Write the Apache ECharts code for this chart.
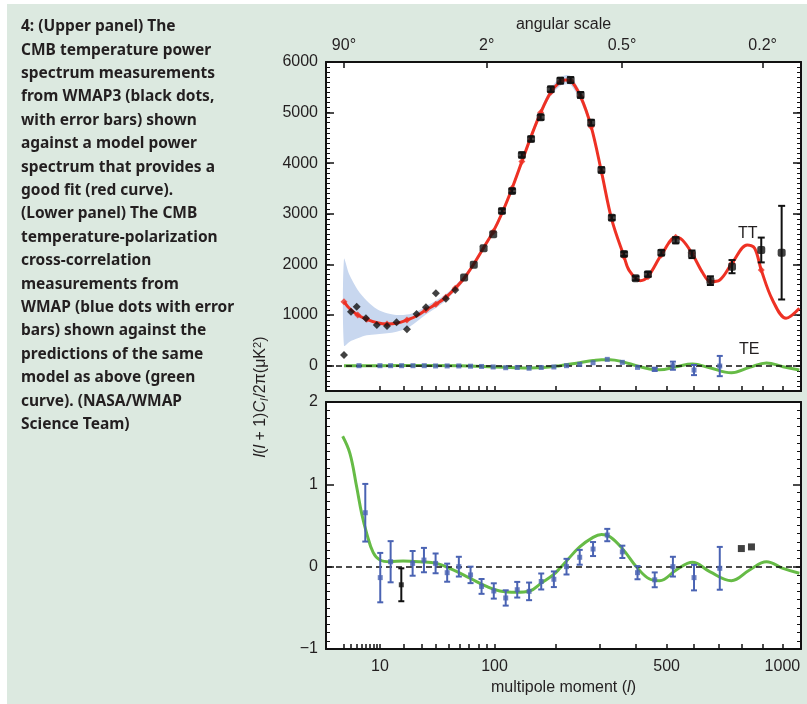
<!DOCTYPE html>
<html>
<head>
<meta charset="utf-8">
<title>WMAP3 TT / TE power spectrum</title>
<script src="https://cdn.jsdelivr.net/npm/echarts@6.0.0/dist/echarts.min.js"></script>
<style>
  html, body { margin: 0; padding: 0; background: #fff; }
  #container { width: 807px; height: 704px; }
</style>
</head>
<body>
<div id="container"></div>
<script>
// ---- data ----
// TT measurements (black dots): multipole l, l(l+1)C_l/2pi in uK^2, error
const ttL = [2, 3, 4, 6, 9, 12.5, 16.4, 21.4, 26.8, 32.7, 39.8, 47.8, 56.1, 64.7, 74.9, 86.2, 98.2, 110, 124.7, 139.8, 155, 172, 191, 210, 231.7, 254, 279, 304.6, 332, 366, 400, 438, 482, 532, 592, 665, 757, 893, 996];
const ttVal = [210, 1067, 1166, 936, 804, 785, 857, 719, 1021, 1153, 1430, 1325, 1496, 1740, 1996, 2320, 2597, 3057, 3453, 4164, 4480, 4909, 5462, 5632, 5646, 5350, 4802, 3868, 2925, 2208, 1727, 1806, 2233, 2478, 2201, 1680, 1957, 2286, 2233];
const ttErr = [0, 0, 0, 0, 0, 0, 0, 0, 0, 0, 0, 0, 0, 0, 0, 0, 0, 40, 40, 45, 45, 50, 50, 55, 55, 55, 55, 50, 45, 40, 40, 45, 50, 60, 75, 86, 130, 245, 925];
// TT model (red curve)
const modelL = [2, 2.74, 4.2, 6.2, 9.1, 12.5, 16.4, 21.4, 26.8, 32.7, 39.8, 47.8, 56.1, 64.7, 74.9, 86.2, 98.2, 110, 124.7, 139.8, 155, 172, 191, 210, 221.6, 231.7, 254, 279, 304.6, 332, 366, 381, 414, 438, 482, 532, 556, 592, 635, 665, 704, 757, 826, 861, 893, 949, 1019, 1091];
const modelTT = [1265, 1134, 1002, 917, 850, 824, 838, 903, 982, 1100, 1213, 1352, 1530, 1727, 2010, 2332, 2648, 3012, 3506, 4032, 4526, 5000, 5403, 5613, 5646, 5630, 5316, 4723, 3834, 2879, 2154, 1877, 1680, 1759, 2188, 2538, 2484, 2221, 1826, 1660, 1694, 2024, 2385, 2320, 1891, 1298, 937, 1134];
// red markers sitting on the model curve
const binL = [2, 4.2, 6.2, 12.5, 21.4, 32.7, 39.8, 47.8, 56.1, 98.2, 124.7, 139.8, 172, 191, 210, 231.7, 254, 279, 304.6, 366, 438, 482, 532, 592, 665, 757, 893];
const binTT = [1265, 1002, 917, 824, 903, 1100, 1213, 1352, 1530, 2648, 3506, 4032, 5000, 5403, 5613, 5630, 5316, 4723, 3834, 2154, 1759, 2188, 2538, 2221, 1660, 2024, 1891];
// cosmic variance band (light blue)
const bandL = [2, 2.74, 4.2, 6.2, 9.1, 12.5, 16.4, 21.4, 26.8, 32.7, 39.8, 47.8, 56.1, 64.7, 74.9, 86.2, 98.2, 110, 124.7, 139.8, 155, 172, 191, 210, 221.6, 231.7, 254, 279, 304.6];
const bandLow = [395, 470, 540, 600, 620, 640, 672, 739, 870, 1010, 1140, 1290, 1475, 1675, 1960, 2285, 2598, 2960, 3450, 3975, 4465, 4935, 5330, 5530, 5560, 5545, 5230, 4650, 3790];
const bandHigh = [2108, 1800, 1496, 1285, 1114, 1035, 1002, 1010, 1067, 1180, 1285, 1415, 1585, 1780, 2060, 2380, 2700, 3065, 3565, 4090, 4590, 5070, 5480, 5700, 5740, 5720, 5400, 4800, 3880];
// TE in the upper panel (uK^2)
const teUpL = [4.45, 10, 13.9, 18.75, 24.7, 31.6, 39.6, 48.9, 59.5, 71.4, 83.8, 98.2, 115.3, 132.5, 151.7, 173, 197, 222.9, 252, 283.6, 319.8, 361, 405.6, 460, 522, 600, 704];
const teUpVal = [0, 0, 0, 0, 0, 0, -5, -5, -5, -10, -15, -25, -40, -35, -50, -35, -25, 0, 26, 59, 125, 66, -33, -72, 0, -86, -7];
const teUpErr = [0, 0, 0, 0, 0, 0, 0, 0, 0, 0, 0, 0, 0, 0, 0, 0, 0, 0, 0, 0, 0, 0, 0, 30, 80, 100, 200];
const teUpModelL = [2, 10, 30, 60, 100, 130, 153, 176, 209, 252, 284, 305, 327, 363, 402, 443, 476, 534, 594, 662, 754, 837, 919, 1003, 1091];
const teUpModel = [0, 1, 2, -2, -25, -40, -45, -38, 0, 60, 101, 119, 119, 76, 0, -66, -81, -21, 31, -40, -140, -33, 55, -20, -87];
// TE lower panel: (l+1)C_l/2pi
const teL = [1.84, 2.84, 3.99, 5.01, 6.18, 7.93, 10, 13.6, 19.5, 28.8, 40.3, 54.2, 70.7, 89.8, 107, 131.3, 153, 173, 195.5, 209, 223, 252, 283.6, 304.6, 327, 363, 402, 443.5, 476, 534, 594, 662, 754, 837, 919, 1003, 1091];
const teModel = [1.584, 1.374, 0.97, 0.647, 0.405, 0.17, 0.081, 0.06, 0.069, 0.06, 0.04, -0.04, -0.14, -0.24, -0.295, -0.31, -0.295, -0.2, -0.1, -0.02, 0.07, 0.24, 0.356, 0.39, 0.364, 0.21, 0, -0.15, -0.17, -0.04, 0.053, -0.06, -0.17, -0.04, 0.06, -0.02, -0.08];
const teObsL = [5.84, 10.1, 13.9, 24.5, 31.4, 39.6, 48.9, 59.5, 71.4, 83.8, 99, 115.3, 132.5, 151.7, 173, 197, 222.9, 252, 283.6, 319.8, 361, 405.6, 460, 522, 600, 704];
const teObs = [0.655, -0.133, 0.06, 0.04, 0.08, 0.04, -0.073, 0, -0.1, -0.24, -0.295, -0.38, -0.28, -0.3, -0.18, -0.153, 0, 0.114, 0.214, 0.384, 0.18, -0.073, -0.16, 0, -0.133, -0.02];
const teObsErr = [0.35, 0.3, 0.25, 0.15, 0.148, 0.12, 0.11, 0.12, 0.1, 0.09, 0.093, 0.093, 0.095, 0.107, 0.097, 0.095, 0.095, 0.09, 0.085, 0.075, 0.075, 0.08, 0.09, 0.12, 0.155, 0.26];
const teBlackL = [18.6];
const teBlack = [-0.22];
const teBlackErr = [0.2];
const squareL = [799, 846];
const squareVal = [0.22, 0.24];

// ticks and labels
const ttTicks = [0, 1000, 2000, 3000, 4000, 5000, 6000];
const lTicksUpper = [10, 20, 30, 40, 50, 60, 70, 80, 90, 100, 200, 300, 400, 500, 600, 700, 800, 900, 1000];
const lTicksLower = [2, 3, 4, 5, 6, 7, 8, 9].concat(lTicksUpper);
const lLabels = [10, 100, 500, 1000];
const angleL = [2, 90, 360, 900];
const angleLabels = ['90°', '2°', '0.5°', '0.2°'];

const caption = [
  '4: (Upper panel) The',
  'CMB temperature power',
  'spectrum measurements',
  'from WMAP3 (black dots,',
  'with error bars) shown',
  'against a model power',
  'spectrum that provides a',
  'good fit (red curve).',
  '(Lower panel) The CMB',
  'temperature-polarization',
  'cross-correlation',
  'measurements from',
  'WMAP (blue dots with error',
  'bars) shown against the',
  'predictions of the same',
  'model as above (green',
  'curve). (NASA/WMAP',
  'Science Team)'
];

// ---- helpers ----
// the l axis of the figure is close to a l^0.4 scale
const T = l => Math.pow(l, 0.4);
const pts = (ls, vs) => ls.map((l, i) => [T(l), vs[i]]);
const errPts = (ls, vs, es) => ls.map((l, i) => [T(l), vs[i], es[i]]);
const xMin = T(0.446);
const xMax = T(1100);

const FONT = 'Liberation Sans';
const INK = '#231f20';
const RED = '#ee3124';
const GREEN = '#66bb46';
const BLUE = '#4a63b3';

const errorBars = (color, width, cap) => function (params, api) {
  const x = api.value(0), v = api.value(1), e = api.value(2);
  if (!e) return;
  const hi = api.coord([x, v + e]);
  const lo = api.coord([x, v - e]);
  const style = { stroke: color, lineWidth: width };
  return {
    type: 'group',
    children: [
      { type: 'line', shape: { x1: hi[0], y1: hi[1], x2: lo[0], y2: lo[1] }, style: style },
      { type: 'line', shape: { x1: hi[0] - cap, y1: hi[1], x2: hi[0] + cap, y2: hi[1] }, style: style },
      { type: 'line', shape: { x1: lo[0] - cap, y1: lo[1], x2: lo[0] + cap, y2: lo[1] }, style: style }
    ]
  };
};

const findLabel = (v, ls, labels) => {
  for (let i = 0; i < ls.length; i++) {
    if (Math.abs(T(ls[i]) - v) < 1e-6) return labels[i];
  }
  return '';
};

const axisLine = { show: true, onZero: false, lineStyle: { color: '#111', width: 2 } };
const noLine = { show: false, onZero: false };
const labelStyle = { color: INK, fontSize: 16, fontFamily: FONT };

const chart = echarts.init(document.getElementById('container'));

const option = {
  backgroundColor: '#fff',
  animation: false,
  graphic: [
    { type: 'rect', left: 7, top: 4, shape: { width: 800, height: 700 }, style: { fill: '#dce9e0' }, z: -10 },
    {
      type: 'text', left: 21, top: 15,
      style: { text: caption.join('\n'), fill: INK, font: '700 15.5px "Noto Sans"', lineHeight: 23.4 }
    },
    {
      type: 'text', x: 261, y: 397, rotation: Math.PI / 2,
      style: {
        text: '{it|l}({it|l} + 1){it|C}{sub|l}/2π(μK{sup|2})',
        fill: INK, fontSize: 16, fontFamily: FONT, align: 'center', verticalAlign: 'middle',
        rich: {
          it: { fontStyle: 'italic', fontSize: 16, fontFamily: FONT, fill: INK },
          sub: { fontStyle: 'italic', fontSize: 11, fontFamily: FONT, fill: INK, padding: [7, 1, 0, 0] },
          sup: { fontSize: 11, fontFamily: FONT, fill: INK, padding: [0, 0, 7, 0] }
        }
      }
    },
    { type: 'text', left: 738, top: 226, style: { text: 'TT', fill: INK, fontSize: 16, fontFamily: FONT } },
    { type: 'text', left: 739, top: 342, style: { text: 'TE', fill: INK, fontSize: 16, fontFamily: FONT } }
  ],
  grid: [
    { left: 326, top: 62, width: 475, height: 329, backgroundColor: '#fff', show: true, borderWidth: 0, outerBoundsMode: 'none' },
    { left: 326, top: 402, width: 475, height: 247, backgroundColor: '#fff', show: true, borderWidth: 0, outerBoundsMode: 'none' }
  ],
  xAxis: [
    {
      gridIndex: 0, type: 'value', position: 'bottom', min: xMin, max: xMax,
      axisLine: axisLine, splitLine: { show: false },
      axisTick: { inside: true, length: 5, lineStyle: { color: '#111', width: 1.5 }, customValues: lTicksUpper.map(T) },
      axisLabel: { show: false }
    },
    {
      gridIndex: 0, type: 'value', position: 'top', min: xMin, max: xMax,
      name: 'angular scale', nameLocation: 'middle', nameGap: 29,
      nameTextStyle: labelStyle,
      axisLine: axisLine, splitLine: { show: false },
      axisTick: { inside: true, length: 6, lineStyle: { color: '#111', width: 1.5 }, customValues: angleL.map(T) },
      axisLabel: Object.assign({ margin: 8, customValues: angleL.map(T), formatter: v => findLabel(v, angleL, angleLabels) }, labelStyle)
    },
    {
      gridIndex: 1, type: 'value', position: 'bottom', min: xMin, max: xMax,
      name: 'multipole moment ({it|l})', nameLocation: 'middle', nameGap: 31,
      nameTextStyle: Object.assign({ rich: { it: { fontStyle: 'italic', fontSize: 16, fontFamily: FONT, color: INK } } }, labelStyle),
      axisLine: axisLine, splitLine: { show: false },
      axisTick: { inside: true, length: 5, lineStyle: { color: '#111', width: 1.5 }, customValues: lTicksLower.map(T) },
      axisLabel: Object.assign({ margin: 10, customValues: lLabels.map(T), formatter: v => findLabel(v, lLabels, lLabels.map(String)) }, labelStyle)
    },
    {
      gridIndex: 1, type: 'value', position: 'top', min: xMin, max: xMax,
      axisLine: axisLine, splitLine: { show: false },
      axisTick: { show: false }, axisLabel: { show: false }
    }
  ],
  yAxis: [
    {
      gridIndex: 0, type: 'value', position: 'left', min: -500, max: 6000,
      axisLine: axisLine, splitLine: { show: false },
      axisTick: { inside: true, length: 8, lineStyle: { color: '#111', width: 1.5 }, customValues: ttTicks },
      axisLabel: Object.assign({ margin: 8, customValues: ttTicks, formatter: v => String(v) }, labelStyle)
    },
    {
      gridIndex: 0, type: 'value', position: 'left', min: -500, max: 6000, interval: 100,
      axisLine: noLine, splitLine: { show: false }, axisLabel: { show: false },
      axisTick: { inside: true, length: 4, lineStyle: { color: '#111', width: 1 } }
    },
    {
      gridIndex: 0, type: 'value', position: 'right', min: -500, max: 6000,
      axisLine: axisLine, splitLine: { show: false }, axisLabel: { show: false },
      axisTick: { inside: true, length: 8, lineStyle: { color: '#111', width: 1.5 }, customValues: ttTicks }
    },
    {
      gridIndex: 0, type: 'value', position: 'right', min: -500, max: 6000, interval: 100,
      axisLine: noLine, splitLine: { show: false }, axisLabel: { show: false },
      axisTick: { inside: true, length: 4, lineStyle: { color: '#111', width: 1 } }
    },
    {
      gridIndex: 1, type: 'value', position: 'left', min: -1, max: 2, interval: 1,
      axisLine: axisLine, splitLine: { show: false },
      axisTick: { inside: true, length: 8, lineStyle: { color: '#111', width: 1.5 } },
      minorTick: { show: true, splitNumber: 10, length: 4, lineStyle: { color: '#111', width: 1 } },
      axisLabel: Object.assign({ margin: 8, formatter: v => (v < 0 ? '\u2212' + (-v) : String(v)) }, labelStyle)
    },
    {
      gridIndex: 1, type: 'value', position: 'right', min: -1, max: 2, interval: 1,
      axisLine: axisLine, splitLine: { show: false }, axisLabel: { show: false },
      axisTick: { inside: true, length: 8, lineStyle: { color: '#111', width: 1.5 } },
      minorTick: { show: true, splitNumber: 10, length: 4, lineStyle: { color: '#111', width: 1 } }
    }
  ],
  series: [
    // cosmic variance band
    {
      type: 'custom', xAxisIndex: 0, yAxisIndex: 0, clip: true, silent: true, z: 1,
      data: bandL.map((l, i) => [T(l), bandLow[i], bandHigh[i]]),
      encode: { x: 0, y: [1, 2] },
      renderItem: function (params, api) {
        if (params.dataIndex !== 0) return;
        const upper = bandL.map((l, i) => api.coord([T(l), bandHigh[i]]));
        const lower = bandL.map((l, i) => api.coord([T(l), bandLow[i]])).reverse();
        return { type: 'polygon', shape: { points: upper.concat(lower), smooth: 0.3 }, style: { fill: '#c8d7ef' } };
      }
    },
    // TE model in the upper panel, with the zero line
    {
      type: 'line', xAxisIndex: 0, yAxisIndex: 0, smooth: 0.4, showSymbol: false, z: 3,
      data: pts(teUpModelL, teUpModel),
      lineStyle: { color: GREEN, width: 3 },
      markLine: {
        silent: true, symbol: 'none', label: { show: false },
        lineStyle: { color: '#111', width: 1.5, type: [6, 4] },
        data: [{ yAxis: 0 }]
      }
    },
    // TT model
    {
      type: 'line', xAxisIndex: 0, yAxisIndex: 0, smooth: 0.35, showSymbol: false, z: 4,
      data: pts(modelL, modelTT),
      lineStyle: { color: RED, width: 3 }
    },
    {
      type: 'scatter', xAxisIndex: 0, yAxisIndex: 0, symbol: 'diamond', symbolSize: 7, z: 5,
      data: pts(binL, binTT), itemStyle: { color: RED }
    },
    // TT data
    {
      type: 'custom', xAxisIndex: 0, yAxisIndex: 0, z: 6, encode: { x: 0, y: 1 },
      data: errPts(ttL, ttVal, ttErr), renderItem: errorBars('#111', 2, 3.5)
    },
    {
      type: 'scatter', xAxisIndex: 0, yAxisIndex: 0, symbol: 'diamond', symbolSize: 8, z: 7,
      data: pts(ttL.slice(0, 13), ttVal.slice(0, 13)), itemStyle: { color: '#111' }
    },
    {
      type: 'scatter', xAxisIndex: 0, yAxisIndex: 0, symbol: 'roundRect', symbolSize: 8, z: 7,
      data: pts(ttL.slice(13), ttVal.slice(13)), itemStyle: { color: '#111' }
    },
    // TE data in the upper panel
    {
      type: 'custom', xAxisIndex: 0, yAxisIndex: 0, z: 6, encode: { x: 0, y: 1 },
      data: errPts(teUpL, teUpVal, teUpErr), renderItem: errorBars(BLUE, 2, 3)
    },
    {
      type: 'scatter', xAxisIndex: 0, yAxisIndex: 0, symbol: 'rect', symbolSize: 5, z: 7,
      data: pts(teUpL, teUpVal), itemStyle: { color: BLUE }
    },
    // lower panel: TE model + zero line
    {
      type: 'line', xAxisIndex: 2, yAxisIndex: 4, smooth: 0.4, showSymbol: false, z: 3,
      data: pts(teL, teModel),
      lineStyle: { color: GREEN, width: 3 },
      markLine: {
        silent: true, symbol: 'none', label: { show: false },
        lineStyle: { color: '#111', width: 1.5, type: [6, 4] },
        data: [{ yAxis: 0 }]
      }
    },
    {
      type: 'custom', xAxisIndex: 2, yAxisIndex: 4, z: 6, encode: { x: 0, y: 1 },
      data: errPts(teObsL, teObs, teObsErr), renderItem: errorBars(BLUE, 2, 3)
    },
    {
      type: 'scatter', xAxisIndex: 2, yAxisIndex: 4, symbol: 'rect', symbolSize: 5, z: 7,
      data: pts(teObsL, teObs), itemStyle: { color: BLUE }
    },
    {
      type: 'custom', xAxisIndex: 2, yAxisIndex: 4, z: 6, encode: { x: 0, y: 1 },
      data: errPts(teBlackL, teBlack, teBlackErr), renderItem: errorBars('#111', 2, 3)
    },
    {
      type: 'scatter', xAxisIndex: 2, yAxisIndex: 4, symbol: 'rect', symbolSize: 5, z: 7,
      data: pts(teBlackL, teBlack), itemStyle: { color: '#111' }
    },
    {
      type: 'scatter', xAxisIndex: 2, yAxisIndex: 4, symbol: 'rect', symbolSize: 7, z: 7,
      data: pts(squareL, squareVal), itemStyle: { color: '#111' }
    }
  ]
};

chart.setOption(option);
</script>
</body>
</html>
